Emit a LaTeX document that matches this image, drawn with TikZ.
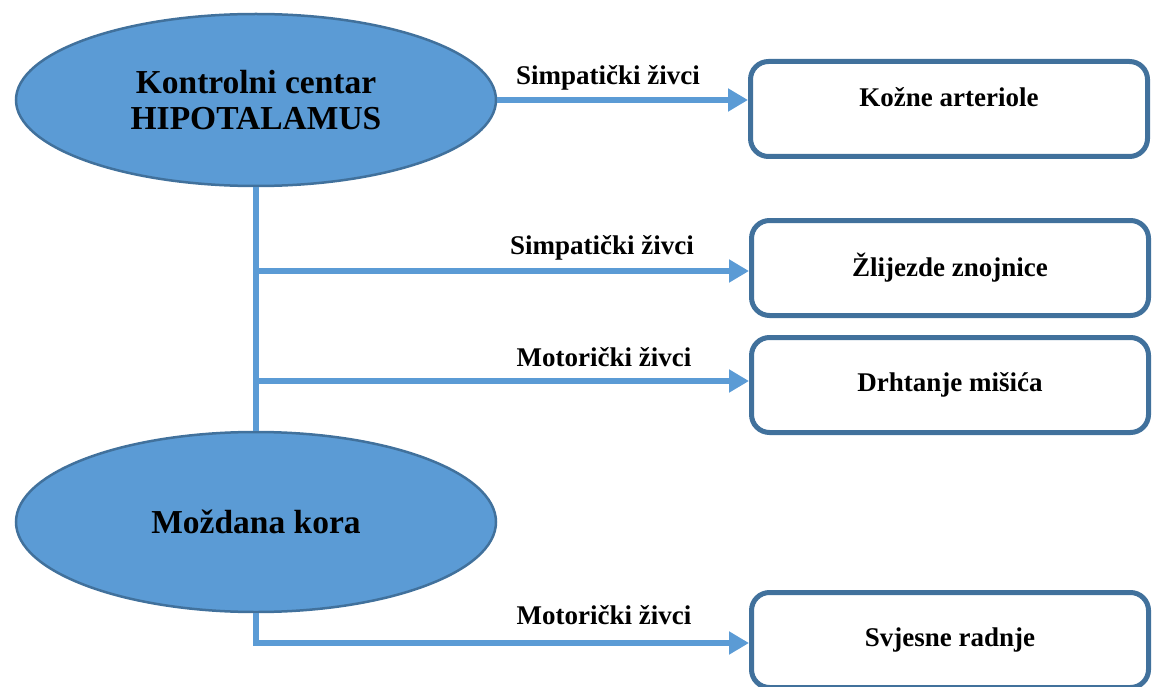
\documentclass[tikz,border=0pt]{standalone}
\usepackage{fontspec}
\setmainfont{Liberation Serif}
\usetikzlibrary{shapes.geometric,arrows.meta,positioning}
\definecolor{fillblue}{RGB}{91,155,213}
\definecolor{edgeblue}{RGB}{65,113,156}

\begin{document}
\begin{tikzpicture}[x=1pt,y=-1pt]
      \tikzstyle{centre}=[ellipse, minimum width=480pt, minimum height=172pt, fill=fillblue, draw=edgeblue, line width=2.5pt, align=center, font=\fontsize{33.5}{36}\selectfont\bfseries]
      \tikzstyle{effect}=[rectangle, rounded corners=18pt, minimum width=397pt, minimum height=95pt, draw=edgeblue, line width=5pt, fill=white, font=\fontsize{27}{32}\selectfont\bfseries]
      \tikzstyle{connect}=[-{Triangle[length=20pt,width=22pt]}, line width=6pt, draw=fillblue]
      \tikzstyle{trunk}=[line width=6pt, draw=fillblue]
      \tikzstyle{lbl}=[inner sep=2pt, font=\fontsize{27}{32}\selectfont\bfseries]

      \useasboundingbox (0,0) rectangle (1153,687);

      \node[centre] (hypo) at (256,100) {Kontrolni centar\\HIPOTALAMUS};
      \node[centre, minimum height=180pt] (cortex) at (256,522) {Moždana kora};

      \node[effect, text depth=24pt] (skin) at (949,109) {Kožne arteriole};
      \node[effect] (sweat) at (950,268) {Žlijezde znojnice};
      \node[effect] (shiver) at (950,385) {Drhtanje mišića};
      \node[effect] (acts) at (950,640) {Svjesne radnje};

      \coordinate (j1) at (256,271);
      \coordinate (j2) at (256,381);
      \coordinate (j4) at (256,643);

      \draw[trunk] (hypo.south) -- (cortex.north);
      \path (hypo.east) edge [connect] (hypo.east -| skin.west);
      \path (j1) edge [connect] (j1 -| sweat.west);
      \path (j2) edge [connect] (j2 -| shiver.west);
      \draw[connect] (cortex.south) |- (j4 -| acts.west);

      \node[lbl] (lskin) at (608,78) {Simpatički živci};
      \node[lbl] (lsweat) at (602,248) {Simpatički živci};
      \node[lbl] (lshiver) at (604,357) {Motorički živci};
      \node[lbl] (lacts) at (604,615) {Motorički živci};
    \end{tikzpicture}
\end{document}
